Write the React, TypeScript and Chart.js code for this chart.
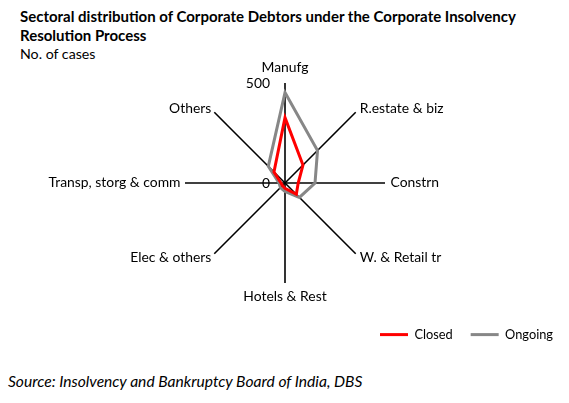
import React, { useEffect, useRef } from "react";
import { Chart, registerables } from "chart.js";

Chart.register(...registerables);

const titleLines = [
  "Sectoral distribution of Corporate Debtors under the Corporate Insolvency",
  "Resolution Process",
];
const unitLabel = "No. of cases";
const sourceText = "Source: Insolvency and Bankruptcy Board of India, DBS";

const categories = [
  "Manufg",
  "R.estate & biz",
  "Constrn",
  "W. & Retail tr",
  "Hotels & Rest",
  "Elec & others",
  "Transp, storg & comm",
  "Others",
];
const closedValues = [327, 127, 66, 80, 27, 18, 20, 78];
const ongoingValues = [452, 230, 150, 102, 42, 32, 30, 118];
const tickValues = [0, 500];

const FONT = "Lato, 'Open Sans', sans-serif";

const tickLabelPlugin = {
  id: "tickLabelPlugin",
  afterDatasetsDraw(chart: any) {
    const s = chart.scales.r;
    const ctx = chart.ctx;
    ctx.save();
    ctx.fillStyle = "#000";
    ctx.textBaseline = "middle";
    // value labels
    ctx.font = `13.9px ${FONT}`;
    ctx.textAlign = "right";
    tickValues.forEach((v) => {
      const d = s.getDistanceFromCenterForValue(v);
      ctx.fillText(String(v), s.xCenter - 15, s.yCenter - d + 1);
    });
    // category labels at the end of each angle line
    const labels: string[] = chart.data.labels;
    labels.forEach((lab, i) => {
      const p = s.getPointPosition(i, s.drawingArea + 5);
      const deg = Math.round((s.getIndexAngle(i) * 180) / Math.PI) % 360;
      let x = p.x;
      let y = p.y;
      if (deg === 0) {
        ctx.textAlign = "center";
        y -= 10;
      } else if (deg === 180) {
        ctx.textAlign = "center";
        y += 9;
      } else if (deg < 180) {
        ctx.textAlign = "left";
        x += 0.5;
      } else {
        ctx.textAlign = "right";
        x += 0.5;
      }
      ctx.fillText(lab, x, y);
    });
    ctx.restore();
  },
};

export default function App() {
  const ref = useRef<HTMLCanvasElement | null>(null);
  useEffect(() => {
    if (!ref.current) return;
    const chart = new Chart(ref.current, {
      type: "radar",
      data: {
        labels: categories,
        datasets: [
          {
            label: "Closed",
            data: closedValues,
            borderColor: "#ff0000",
            backgroundColor: "#ff0000",
            borderWidth: 3,
            fill: false,
            pointRadius: 0,
            pointHoverRadius: 0,
            tension: 0,
          },
          {
            label: "Ongoing",
            data: ongoingValues,
            borderColor: "#878787",
            backgroundColor: "#878787",
            borderWidth: 3,
            fill: false,
            pointRadius: 0,
            pointHoverRadius: 0,
            tension: 0,
          },
        ],
      },
      options: {
        animation: false,
        responsive: true,
        maintainAspectRatio: false,
        layout: { padding: { top: 83, left: 1, right: -2, bottom: 0 } },
        scales: {
          r: {
            min: 0,
            max: 500,
            ticks: { display: false, stepSize: 500 },
            grid: { display: false },
            angleLines: { display: true, color: "#000", lineWidth: 1.6 },
            pointLabels: { display: false },
          },
        },
        plugins: {
          tooltip: { enabled: false },
          legend: {
            display: true,
            position: "bottom",
            align: "end",
            title: {
              display: true,
              text: "",
              font: { size: 1 },
              padding: { top: 25, bottom: 0 },
            },
            labels: {
              boxWidth: 28,
              boxHeight: 3,
              padding: 18,
              color: "#000",
              font: { family: FONT, size: 12.8 },
              generateLabels: (c: any) =>
                Chart.defaults.plugins.legend.labels
                  .generateLabels(c)
                  .map((l: any) => ({ ...l, lineWidth: 0 })),
            },
          },
        },
      },
      plugins: [tickLabelPlugin],
    });
    return () => chart.destroy();
  }, []);

  return (
    <div
      style={{
        position: "absolute",
        left: 0,
        top: 0,
        width: 569,
        height: 403,
        background: "#fff",
        fontFamily: FONT,
        color: "#000",
      }}
    >
      <div style={{ position: "absolute", left: 20, top: 7, fontWeight: 700, fontSize: 15, lineHeight: "19px", whiteSpace: "nowrap" }}>
        {titleLines.map((t, i) => (
          <div key={i}>{t}</div>
        ))}
      </div>
      <div style={{ position: "absolute", left: 20, top: 44, fontSize: 14.2, lineHeight: "19px" }}>{unitLabel}</div>
      <div style={{ position: "absolute", left: 0, top: 0, width: 569, height: 351 }}>
        <canvas ref={ref} />
      </div>
      <div style={{ position: "absolute", left: 8, top: 371, fontSize: 15.6, fontStyle: "italic", lineHeight: "20px", whiteSpace: "nowrap" }}>
        {sourceText}
      </div>
    </div>
  );
}
